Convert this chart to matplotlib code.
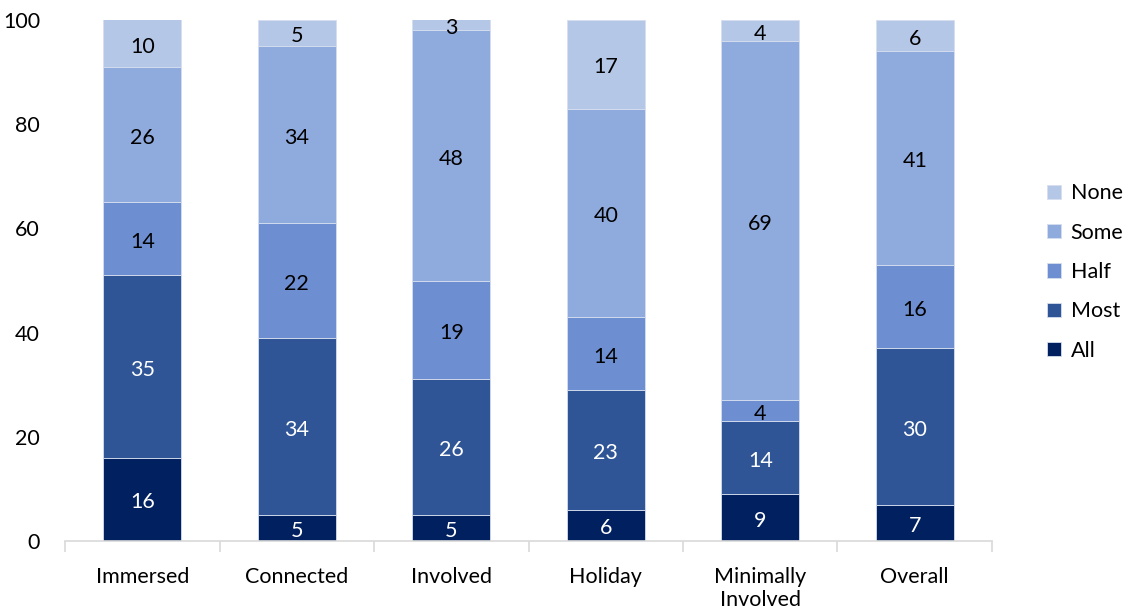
import matplotlib
matplotlib.use("Agg")
import matplotlib.pyplot as plt
import numpy as np

plt.rcParams['font.family'] = ['Lato', 'DejaVu Sans']

categories = ["Immersed", "Connected", "Involved", "Holiday", "Minimally\nInvolved", "Overall"]
series_names = ["All", "Most", "Half", "Some", "None"]
all_vals = [16, 5, 5, 6, 9, 7]
most_vals = [35, 34, 26, 23, 14, 30]
half_vals = [14, 22, 19, 14, 4, 16]
some_vals = [26, 34, 48, 40, 69, 41]
none_vals = [10, 5, 3, 17, 4, 6]

series_values = [all_vals, most_vals, half_vals, some_vals, none_vals]
colors = ["#002060", "#2F5597", "#6D8FD1", "#8FAADC", "#B4C7E7"]
label_colors = ["white", "white", "black", "black", "black"]

fig = plt.figure(figsize=(11.26, 6.08), dpi=100)
ax = fig.add_axes([65 / 1126, 1 - 541 / 608, (992 - 65) / 1126, (541 - 20) / 608])

x = np.arange(len(categories))
bottom = np.zeros(len(categories))
handles = []
for name, vals, col, lcol in zip(series_names, series_values, colors, label_colors):
    vals = np.array(vals, dtype=float)
    bars = ax.bar(x, vals, width=0.505, bottom=bottom, color=col,
                  edgecolor="#D6DEEF", linewidth=0.6, label=name, zorder=2)
    handles.append(bars)
    for xi, b, v in zip(x, bottom, vals):
        top = min(b + v, 100)
        yc = (b + top) / 2
        ax.text(xi, yc - 0.6, f"{int(v)}", ha="center", va="center",
                fontsize=15.5, color=lcol, zorder=3)
    bottom += vals

ax.set_xlim(-0.5, len(categories) - 0.5)
ax.set_ylim(0, 100)
ax.set_yticks(np.arange(0, 101, 20))
ax.tick_params(axis="y", length=0, pad=18, labelsize=15.5)
ax.set_xticks(x)
ax.set_xticklabels(categories, fontsize=15.5, linespacing=1.15)
ax.tick_params(axis="x", which="major", length=0, pad=19)
ax.set_xticks(np.arange(-0.5, len(categories), 1), minor=True)
ax.tick_params(axis="x", which="minor", length=8, color="#D9D9D9", width=1.2)

for side in ["left", "right", "top"]:
    ax.spines[side].set_visible(False)
ax.spines["bottom"].set_color("#D9D9D9")
ax.spines["bottom"].set_linewidth(1.2)

leg = fig.legend(handles[::-1], series_names[::-1], loc="center left",
                 bbox_to_anchor=(1047 / 1126, 1 - 272 / 608), frameon=False,
                 fontsize=15.5, handlelength=0.65, handleheight=0.65,
                 handletextpad=0.45, labelspacing=0.9, borderaxespad=0,
                 borderpad=0)

fig.savefig("out.png", dpi=100)
